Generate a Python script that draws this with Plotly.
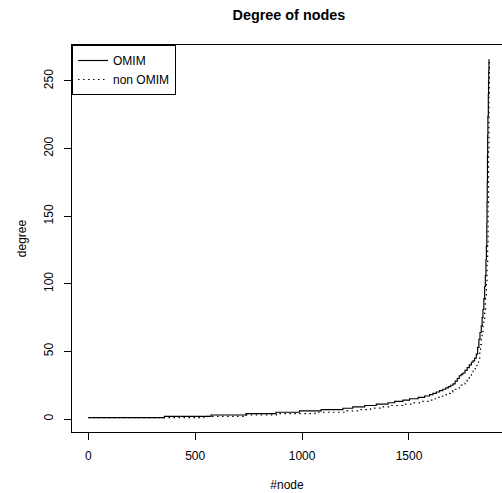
import plotly.graph_objects as go

# Sorted node degrees, given as step breakpoints: (first node index, degree)
omim_node = [1, 356, 574, 738, 878, 988, 1089, 1191, 1237, 1293, 1347, 1402, 1433,
             1472, 1503, 1543, 1573, 1596, 1612, 1628, 1643, 1658, 1672, 1684, 1695,
             1706, 1716, 1726, 1735, 1744, 1752, 1762, 1772, 1782, 1792, 1799, 1807,
             1815, 1821, 1827, 1832, 1838, 1842, 1846, 1850, 1854, 1857, 1860, 1862,
             1864, 1865, 1866, 1867, 1868, 1869, 1871, 1872, 1873, 1874]
omim_degree = [1, 2, 3, 4, 5, 6, 7, 8, 9, 10, 11, 12, 13,
               14, 15, 16, 17, 18, 19, 20, 21, 22, 23, 24, 25,
               26, 28, 30, 32, 33, 34, 36, 38, 40, 42, 43, 45,
               48, 53, 59, 64, 69, 75, 81, 89, 98, 106, 118, 128,
               145, 160, 175, 195, 210, 224, 240, 250, 258, 266]

non_omim_node = [1, 540, 740, 880, 1060, 1210, 1270, 1320, 1370, 1420, 1470, 1520,
                 1565, 1595, 1615, 1635, 1652, 1667, 1680, 1693, 1705, 1716, 1726,
                 1736, 1745, 1752, 1762, 1772, 1782, 1792, 1800, 1810, 1818, 1825,
                 1831, 1835, 1838, 1842, 1846, 1850, 1854, 1858, 1862, 1865, 1868,
                 1870, 1872, 1874, 1876]
non_omim_degree = [1, 2, 3, 4, 5, 6, 7, 8, 9, 10, 11, 12,
                   13, 14, 15, 16, 17, 18, 19, 20, 21, 22, 23,
                   24, 25, 26, 28, 30, 32, 34, 36, 39, 42, 45,
                   50, 55, 59, 64, 69, 74, 81, 89, 100, 115, 130,
                   160, 200, 240, 266]

x_ticks = [0, 500, 1000, 1500]
y_ticks = [0, 50, 100, 150, 200, 250]

FONT = "Liberation Sans, Arial, Helvetica, sans-serif"

fig = go.Figure()
fig.add_trace(go.Scatter(x=omim_node, y=omim_degree, mode="lines", name="OMIM",
                         line=dict(color="black", width=1.15, shape="hv")))
fig.add_trace(go.Scatter(x=non_omim_node, y=non_omim_degree, mode="lines", name="non OMIM",
                         line=dict(color="black", width=1.2, shape="hv", dash="1.5px,3.5px")))

fig.update_layout(
    width=502, height=493,
    margin=dict(l=72, r=0, t=45, b=61, autoexpand=False),
    paper_bgcolor="white", plot_bgcolor="white",
    font=dict(family=FONT, size=12, color="black"),
    title=dict(text="<b>Degree of nodes</b>", x=0.5755, xanchor="center", y=0.97, yanchor="middle",
               font=dict(size=14.4, family=FONT)),
    showlegend=True,
    legend=dict(x=0, y=1, xanchor="left", yanchor="top", bordercolor="black", borderwidth=1,
                bgcolor="white", font=dict(size=12, family=FONT), tracegroupgap=0),
)
fig.update_xaxes(range=[-76, 1935], tickvals=x_ticks, ticktext=[str(v) for v in x_ticks],
                 showgrid=False, zeroline=False, showline=True, linecolor="black", linewidth=1,
                 mirror=True, ticks="outside", ticklen=7, tickcolor="black",
                 ticklabelstandoff=6,
                 title=dict(text="#node", standoff=18, font=dict(size=12)))
fig.update_yaxes(range=[-9.6, 276.6], tickvals=y_ticks, ticktext=[str(v) for v in y_ticks],
                 tickangle=-90, showgrid=False, zeroline=False, showline=True, linecolor="black",
                 linewidth=1, ticks="outside", ticklen=7, tickcolor="black",
                 ticklabelstandoff=6,
                 title=dict(text="degree", standoff=13, font=dict(size=12)))

fig.write_html("out.html")
